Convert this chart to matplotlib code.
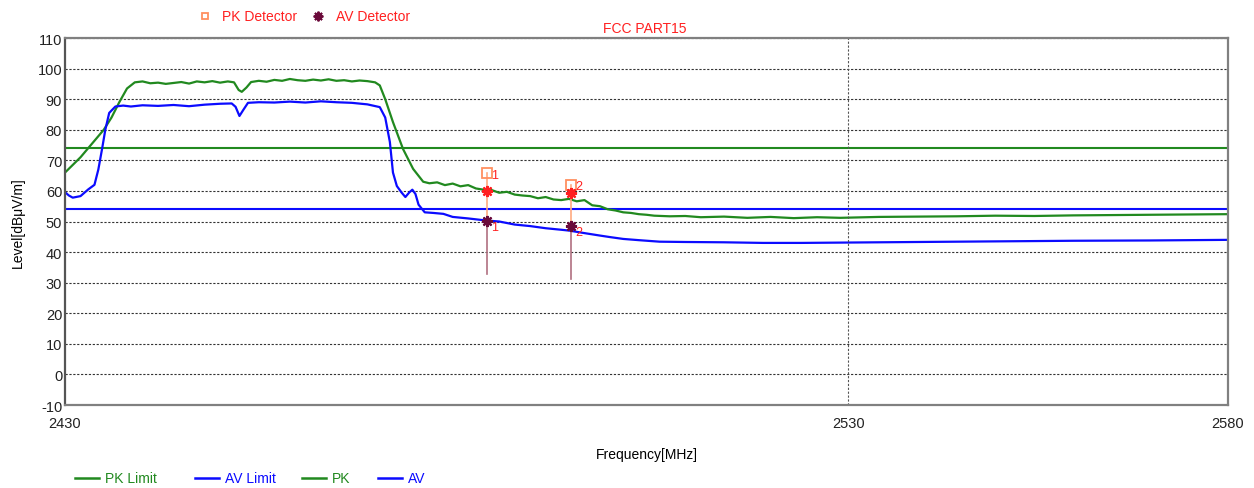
import matplotlib
matplotlib.use('Agg')
import matplotlib.pyplot as plt
from matplotlib.lines import Line2D

plt.rcParams['font.family'] = ['Liberation Sans', 'DejaVu Sans']
plt.rcParams['axes.unicode_minus'] = False

# peak trace (MHz, dBuV/m)
pk_freq = [2430.0, 2431.0, 2432.0, 2433.0, 2434.0, 2435.0, 2436.0, 2437.0, 2438.0, 2439.0,
           2440.0, 2441.0, 2442.0, 2443.0, 2444.0, 2445.0, 2446.0, 2447.0, 2448.0, 2449.0,
           2450.0, 2451.0, 2451.8, 2452.4, 2452.8, 2453.4, 2454.0, 2455.0, 2456.0, 2457.0,
           2458.0, 2459.0, 2460.0, 2461.0, 2462.0, 2463.0, 2464.0, 2465.0, 2466.0, 2467.0,
           2468.0, 2469.0, 2470.0, 2470.6, 2471.3, 2472.3, 2473.6, 2474.9, 2476.2, 2477.0,
           2478.0, 2479.0, 2480.0, 2481.0, 2482.0, 2483.0, 2484.0, 2485.0, 2486.0, 2487.0,
           2488.0, 2489.0, 2490.0, 2491.0, 2492.0, 2493.0, 2494.0, 2495.0, 2496.0, 2497.0,
           2498.0, 2499.0, 2500.0, 2501.0, 2502.0, 2503.0, 2504.0, 2505.0, 2506.0, 2508.0,
           2510.0, 2512.0, 2515.0, 2518.0, 2521.0, 2524.0, 2527.0, 2530.0, 2535.0, 2540.0,
           2545.0, 2550.0, 2555.0, 2560.0, 2565.0, 2570.0, 2575.0, 2580.0]
pk_level = [66.0, 68.5, 71.0, 74.0, 77.0, 80.0, 84.0, 89.0, 93.5, 95.5,
            95.8, 95.2, 95.4, 95.0, 95.3, 95.6, 95.1, 95.8, 95.5, 95.9,
            95.4, 95.8, 95.5, 93.0, 92.4, 93.8, 95.6, 96.0, 95.7, 96.3,
            96.0, 96.6, 96.2, 96.0, 96.4, 96.1, 96.5, 96.0, 96.2, 95.8,
            96.1, 95.9, 95.5, 94.5, 90.0, 82.5, 73.7, 67.2, 63.0, 62.5,
            62.8, 61.9, 62.4, 61.5, 61.9, 60.8, 60.4, 60.3, 59.4, 59.7,
            58.8, 58.5, 58.3, 57.6, 58.0, 57.2, 57.0, 57.4, 56.6, 57.0,
            55.3, 55.0, 54.0, 53.6, 53.0, 52.8, 52.4, 52.2, 51.9, 51.7,
            51.8, 51.4, 51.6, 51.2, 51.5, 51.1, 51.4, 51.2, 51.5, 51.6,
            51.7, 51.9, 51.8, 52.0, 52.1, 52.2, 52.3, 52.4]

# average trace
av_freq = [2430.0, 2430.5, 2431.0, 2432.0, 2433.0, 2433.8, 2434.3, 2434.8, 2435.2, 2435.7,
           2436.5, 2437.5, 2438.5, 2440.0, 2442.0, 2444.0, 2446.0, 2448.0, 2450.0, 2451.5,
           2452.0, 2452.5, 2453.0, 2453.6, 2455.0, 2457.0, 2459.0, 2461.0, 2463.0, 2465.0,
           2467.0, 2469.0, 2470.6, 2471.3, 2471.9, 2472.3, 2472.8, 2473.4, 2473.9, 2474.4,
           2474.8, 2475.2, 2475.6, 2476.4, 2477.5, 2478.8, 2480.0, 2482.0, 2484.4, 2486.0,
           2488.0, 2490.0, 2492.0, 2494.0, 2495.1, 2497.0, 2499.0, 2500.3, 2502.0, 2504.0,
           2506.7, 2510.0, 2515.0, 2520.0, 2525.0, 2530.0, 2540.0, 2550.0, 2560.0, 2570.0,
           2580.0]
av_level = [59.6, 58.5, 57.8, 58.3, 60.5, 62.0, 67.0, 74.0, 80.0, 85.5,
            87.6, 87.9, 87.6, 88.0, 87.8, 88.1, 87.7, 88.2, 88.5, 88.6,
            87.5, 84.5, 86.5, 88.8, 89.0, 88.9, 89.2, 88.9, 89.3, 89.0,
            88.8, 88.3, 87.4, 84.0, 76.0, 66.0, 61.6, 59.5, 58.0, 59.5,
            60.4, 59.0, 55.5, 53.0, 52.8, 52.5, 51.5, 51.0, 50.3, 50.0,
            49.0, 48.5, 47.8, 47.3, 47.0, 46.2, 45.4, 44.9, 44.3, 43.9,
            43.4, 43.3, 43.2, 43.0, 43.0, 43.1, 43.3, 43.5, 43.7, 43.8,
            44.0]

pk_limit = 74
av_limit = 54

# markers
mk_freq = [2484.4, 2495.2]
mk_pk = [65.8, 62.0]
mk_pk_trace = [59.9, 59.2]
mk_av = [50.1, 48.6]
mk_bottom = [32.8, 31.2]
mk_labels = ['1', '2']

green = '#21891f'
blue = '#0b0bff'
red = '#ff2020'
maroon = '#6a0a3a'
fs = 10

fig = plt.figure(figsize=(12.54, 4.89), dpi=100)
ax = fig.add_axes([65 / 1254, 1 - 406 / 489, (1228 - 65) / 1254, (406 - 39) / 489])

ax.axhline(pk_limit, color=green, lw=1.5)
ax.axhline(av_limit, color=blue, lw=1.5)
ax.plot(pk_freq, pk_level, color=green, lw=1.6)
ax.plot(av_freq, av_level, color=blue, lw=1.6)

for i in range(len(mk_freq)):
    ax.plot([mk_freq[i], mk_freq[i]], [mk_pk[i], mk_av[i]], color='#ffaa80', lw=1.2)
    ax.plot([mk_freq[i], mk_freq[i]], [mk_av[i], mk_bottom[i]], color='#b07080', lw=1.2)
    ax.plot(mk_freq[i], mk_pk[i], marker='s', ms=7, mfc='none', mec='#ff9060', mew=1.3)
    ax.plot(mk_freq[i], mk_pk_trace[i], marker=(8, 2, 0), ms=8, color=red, mew=1.6)
    ax.plot(mk_freq[i], mk_av[i], marker=(8, 2, 0), ms=8, color=maroon, mew=1.6)
    ax.text(mk_freq[i] + 0.6, mk_pk[i] - 1.5, mk_labels[i], color=red, fontsize=9)
    ax.text(mk_freq[i] + 0.6, mk_av[i] - 3.0, mk_labels[i], color=red, fontsize=9)

ax.set_xlim(2430, 2580)
ax.set_ylim(-10, 110)
ax.set_yticks(range(-10, 111, 10))
ax.set_xticks([2430, 2531, 2580])
ax.set_xticklabels(['2430', '2530', '2580'])
ax.tick_params(length=0, labelsize=fs + 0.5, colors='#222222')
ax.tick_params(axis='x', pad=8)
ax.tick_params(axis='y', pad=2)
ax.grid(axis='y', color='#333333', ls=(0, (2, 1.5)), lw=0.8)
ax.axvline(2531, color='#555555', ls=(0, (2, 1.5)), lw=0.8)
for s in ax.spines.values():
    s.set_color('#808080')
    s.set_linewidth(1.6)
ax.spines['left'].set_color('#555555')

ax.set_xlabel('Frequency[MHz]', fontsize=fs, labelpad=12)
ax.set_ylabel('Level[dBμV/m]', fontsize=fs)
ax.yaxis.set_label_coords(-40 / 1163, 0.5)

fig.text(645 / 1254, 1 - 29 / 489, 'FCC PART15', color=red, fontsize=fs, ha='center', va='center')

# top legend
fig.add_artist(Line2D([205 / 1254], [1 - 17 / 489], marker='s', ms=5, mfc='none', mec='#ff9060', mew=1.3))
fig.text(222 / 1254, 1 - 17 / 489, 'PK Detector', color=red, fontsize=fs, va='center')
fig.add_artist(Line2D([318 / 1254], [1 - 17 / 489], marker=(8, 2, 0), ms=7, color=maroon, mew=1.4))
fig.text(336 / 1254, 1 - 17 / 489, 'AV Detector', color=red, fontsize=fs, va='center')

# bottom legend
legend_items = [('PK Limit', green, 75), ('AV Limit', blue, 195), ('PK', green, 302), ('AV', blue, 378)]
for name, col, x0 in legend_items:
    fig.add_artist(Line2D([x0 / 1254, (x0 + 24) / 1254], [1 - 479 / 489, 1 - 479 / 489], color=col, lw=1.8))
    fig.text((x0 + 30) / 1254, 1 - 479 / 489, name, color=col, fontsize=fs, va='center')

fig.savefig('out.png', dpi=100)
